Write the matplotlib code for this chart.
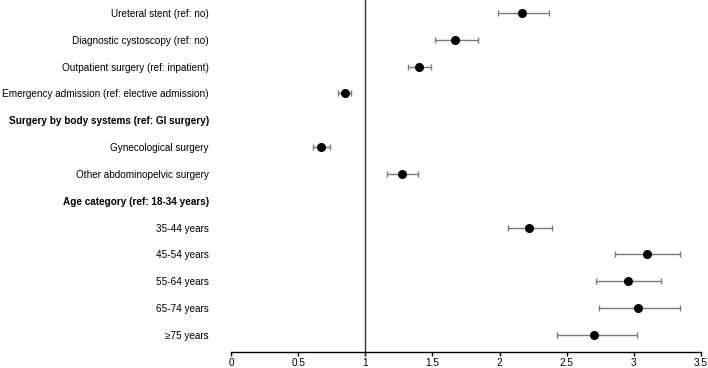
import matplotlib
matplotlib.use("Agg")
import matplotlib.pyplot as plt
import numpy as np

labels = [
    "Ureteral stent (ref: no)",
    "Diagnostic cystoscopy (ref: no)",
    "Outpatient surgery (ref: inpatient)",
    "Emergency admission (ref: elective admission)",
    "Surgery by body systems (ref: GI surgery)",
    "Gynecological surgery",
    "Other abdominopelvic surgery",
    "Age category (ref: 18-34 years)",
    "35-44 years",
    "45-54 years",
    "55-64 years",
    "65-74 years",
    "\u226575 years",
]
is_header = [False, False, False, False, True, False, False, True, False, False, False, False, False]
estimate = [2.17, 1.67, 1.40, 0.85, np.nan, 0.67, 1.27, np.nan, 2.22, 3.10, 2.96, 3.03, 2.70]
lower    = [1.99, 1.52, 1.32, 0.80, np.nan, 0.61, 1.16, np.nan, 2.06, 2.86, 2.72, 2.74, 2.43]
upper    = [2.37, 1.84, 1.49, 0.89, np.nan, 0.74, 1.39, np.nan, 2.39, 3.34, 3.20, 3.34, 3.02]
xticks = [0, 0.5, 1, 1.5, 2, 2.5, 3, 3.5]
xticklabels = ["0", "0.5", "1", "1.5", "2", "2.5", "3", "3.5"]

plt.rcParams['font.family'] = ['Liberation Sans', 'DejaVu Sans']

W, H = 708, 368
fig = plt.figure(figsize=(W / 100, H / 100), dpi=100)
ax = fig.add_axes([231 / W, 16.5 / H, 470 / W, 351.5 / H])

n = len(labels)
ys = np.arange(n)[::-1].astype(float)
est = np.array(estimate)
lo = np.array(lower)
hi = np.array(upper)
m = ~np.isnan(est)

ax.errorbar(est[m], ys[m], xerr=[est[m] - lo[m], hi[m] - est[m]], fmt='none',
            ecolor='#7a7a7a', elinewidth=1.0, capsize=2.2, capthick=1.0, zorder=2)
ax.plot(est[m], ys[m], 'o', color='black', markersize=5.5, zorder=3)

ax.axvline(1, color='#333333', linewidth=1.0, zorder=1)

ax.set_xlim(0, 3.5)
ax.set_ylim(-0.62, n - 1 + 0.485)
ax.set_xticks(xticks)
ax.set_xticklabels(xticklabels, fontsize=7.2)
ax.set_yticks(ys)
ax.set_yticklabels(labels, fontsize=7.2)
for t, h in zip(ax.get_yticklabels(), is_header):
    if h:
        t.set_fontweight('bold')
ax.tick_params(axis='y', length=0, pad=16)
ax.tick_params(axis='x', length=3, width=1, pad=1.5, direction='out')
for s in ['top', 'right', 'left']:
    ax.spines[s].set_visible(False)
ax.spines['bottom'].set_linewidth(1.0)

fig.savefig("out.png", dpi=100)
